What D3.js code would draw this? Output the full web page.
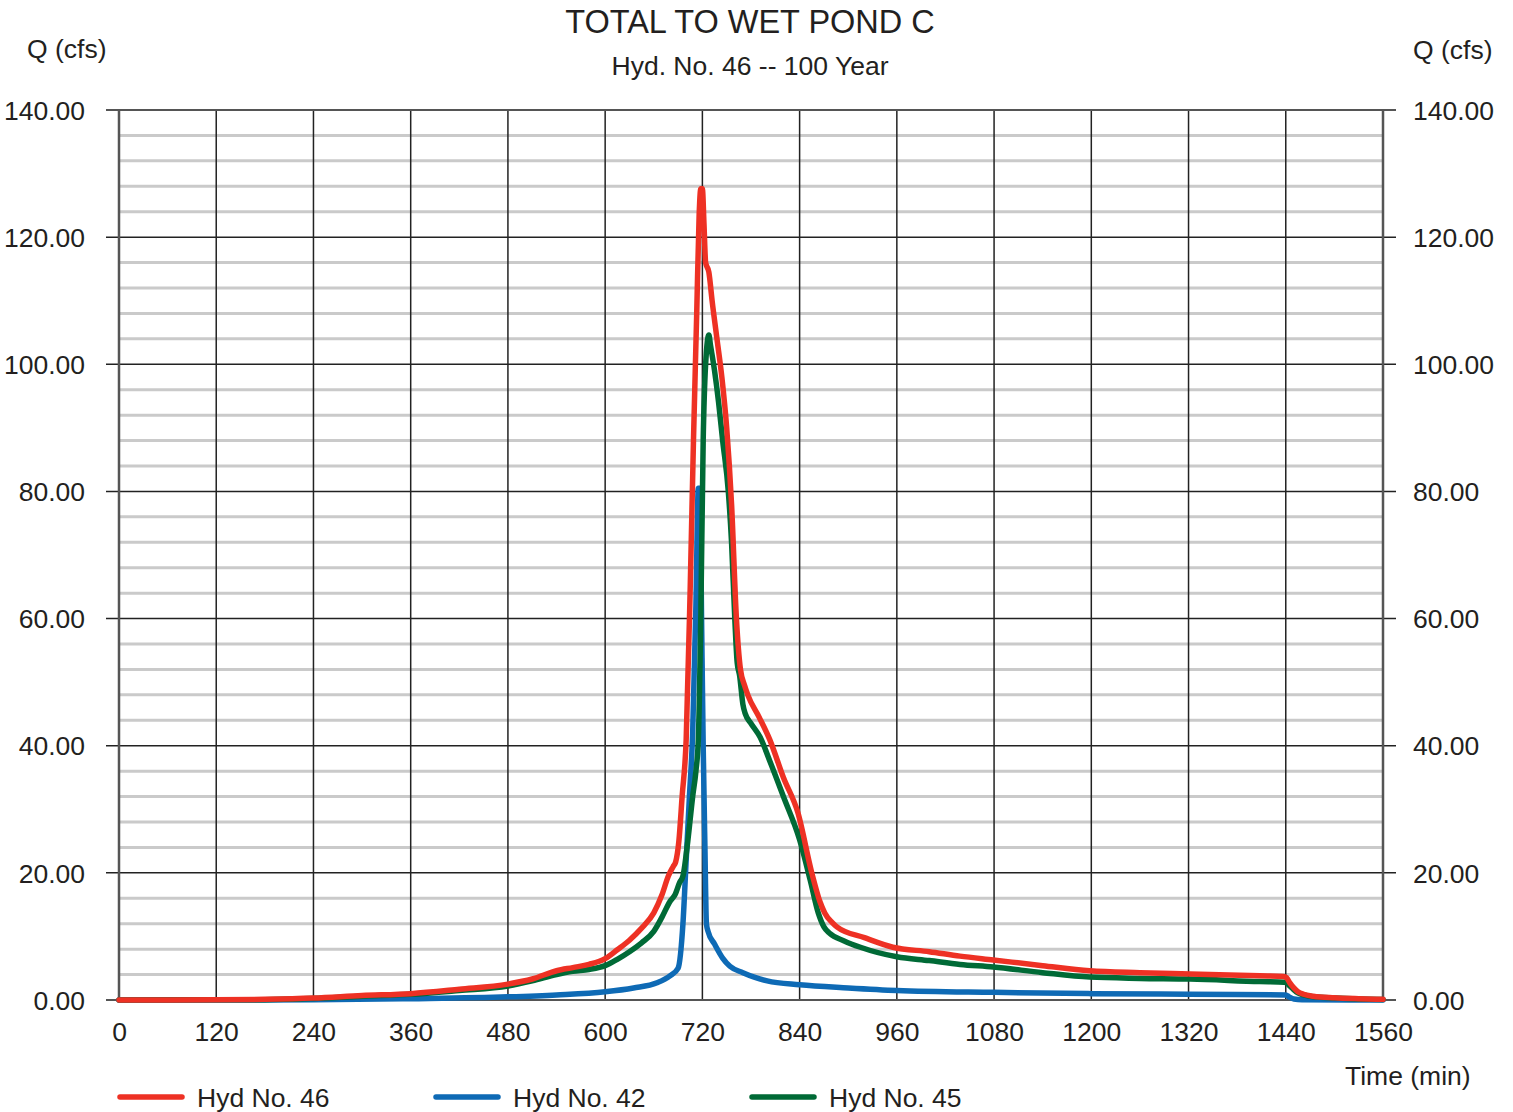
<!DOCTYPE html>
<html><head><meta charset="utf-8">
<script src="https://cdn.jsdelivr.net/npm/d3@7"></script>
<style>
html,body{margin:0;padding:0;background:#fff;}
svg{display:block;}
text{font-family:"Liberation Sans",Arial,sans-serif;fill:#231f20;}
</style></head>
<body>
<svg id="chart" width="1513" height="1112"></svg>
<script>
const titleText = "TOTAL TO WET POND C";
const subtitleText = "Hyd. No. 46 -- 100 Year";
const xTicks = [0,120,240,360,480,600,720,840,960,1080,1200,1320,1440,1560];
const yTicks = [0,20,40,60,80,100,120,140];
const yMinor = d3.range(0,141,4).filter(v => v % 20 !== 0);
const seriesNames = ["Hyd No. 46","Hyd No. 42","Hyd No. 45"];
const seriesColors = ["#ee3124","#0e6ab5","#006a36"];

// Hyd No. 46
const t46 = [0,120,180,240,300,360,420,480,510,540,560,580,600,615,630,645,660,670,678,684,687,691,695,700,705,709,713,716,718,720,722,724,728,732,738,744,750,756,762,767,772,776,790,803,820,838,855,865,871,880,886,920,955,1000,1038,1079,1140,1198,1260,1322,1408,1437,1441,1445,1450,1455,1462,1474,1500,1530,1560];
const q46 = [0,0.02,0.1,0.3,0.7,1.0,1.7,2.5,3.3,4.6,5.1,5.6,6.5,7.9,9.4,11.3,13.7,16.5,19.5,21.0,21.7,25,32,41,65,88,108,123.5,127.6,127.6,122,116,114.5,110,104,98,90,78,60,52,49.5,48,44.5,41,35,29.4,20,15.5,13.7,12.2,11.5,9.8,8.3,7.6,6.9,6.3,5.4,4.6,4.3,4.1,3.8,3.7,3.5,2.7,1.9,1.3,0.9,0.6,0.35,0.2,0.1];

// Hyd No. 42
const t42 = [0,120,240,360,480,540,600,635,664,680,690,696,700,704,708,712,715,717,719,721,723,725,727,735,745,754,770,784,800,840,900,960,1080,1200,1320,1440,1444,1450,1460,1560];
const q42 = [0,0,0.02,0.2,0.5,0.8,1.3,1.9,2.7,3.8,5.0,12,22,32,42,62,80.5,80.5,60,40,25,12,10.8,8.8,6.6,5.3,4.3,3.6,3.0,2.4,1.9,1.5,1.2,1.0,0.9,0.8,0.5,0.15,0.05,0];

// Hyd No. 45
const t45 = [0,180,240,300,360,420,480,510,540,560,580,600,615,630,645,660,670,680,686,692,696,702,708,712,715,718,721,724,728,730,735,740,745,752,756,760,763,766,770,773,780,791,805,820,840,853,863,870,877,895,915,960,1000,1038,1079,1140,1198,1260,1322,1408,1438,1441,1445,1450,1455,1462,1474,1500,1530,1560];
const q45 = [0,0.05,0.25,0.6,0.9,1.5,2.2,3.0,4.0,4.5,4.8,5.4,6.4,7.6,9.0,10.8,13,15.5,16.5,18.5,19.5,25,32,36,41,60,88,100,104.6,103,99,94,88,80,72,60,53,51,46.5,45,43.5,41.4,37,32,25.2,18.9,13.7,11.5,10.5,9.3,8.3,6.8,6.2,5.6,5.2,4.3,3.6,3.4,3.3,2.9,2.8,2.7,2.2,1.6,1.1,0.8,0.5,0.3,0.15,0.08];

const svg = d3.select("#chart");
const L = 119, R = 1383, T = 110, B = 1000;
const x = d3.scaleLinear().domain([0,1560]).range([L,R]);
const y = d3.scaleLinear().domain([0,140]).range([B,T]);

// minor gridlines
svg.append("g").selectAll("line").data(yMinor).join("line")
  .attr("x1",L).attr("x2",R).attr("y1",d=>y(d)).attr("y2",d=>y(d))
  .attr("stroke","#cacaca").attr("stroke-width",3);

// vertical gridlines
svg.append("g").selectAll("line").data(xTicks.filter(d=>d>0 && d<1560)).join("line")
  .attr("x1",d=>x(d)).attr("x2",d=>x(d)).attr("y1",T).attr("y2",B)
  .attr("stroke","#222").attr("stroke-width",1.5);

// major horizontal gridlines (extend as ticks)
svg.append("g").selectAll("line").data(yTicks).join("line")
  .attr("x1",L-13).attr("x2",R+13).attr("y1",d=>y(d)).attr("y2",d=>y(d))
  .attr("stroke",d=> (d===0||d===140) ? "#555" : "#222")
  .attr("stroke-width",d=> (d===0||d===140) ? 2 : 1.5);

// frame sides
svg.append("line").attr("x1",L).attr("x2",L).attr("y1",T).attr("y2",B).attr("stroke","#555").attr("stroke-width",2.5);
svg.append("line").attr("x1",R).attr("x2",R).attr("y1",T).attr("y2",B).attr("stroke","#555").attr("stroke-width",2.5);

// axes (labels)
const fmt = d3.format(".2f");
const gl = svg.append("g").attr("transform",`translate(${L},0)`)
  .call(d3.axisLeft(y).tickValues(yTicks).tickFormat(fmt).tickSize(0).tickPadding(34));
const gr = svg.append("g").attr("transform",`translate(${R},0)`)
  .call(d3.axisRight(y).tickValues(yTicks).tickFormat(fmt).tickSize(0).tickPadding(30));
const gb = svg.append("g").attr("transform",`translate(0,${B})`)
  .call(d3.axisBottom(x).tickValues(xTicks).tickFormat(d3.format("d")).tickSize(0).tickPadding(22));
[gl,gr,gb].forEach(g=>{
  g.select(".domain").remove();
  g.selectAll("text").attr("font-size",26.5).attr("fill","#231f20")
   .style("font-family","'Liberation Sans',Arial,sans-serif");
});
gl.selectAll("text").attr("dy","0.35em");
gr.selectAll("text").attr("dy","0.35em");

// series lines
const line = d3.line().x(d=>x(d[0])).y(d=>y(d[1])).curve(d3.curveMonotoneX);
const series = [
  {name:seriesNames[1], color:seriesColors[1], pts:d3.zip(t42,q42)},
  {name:seriesNames[2], color:seriesColors[2], pts:d3.zip(t45,q45)},
  {name:seriesNames[0], color:seriesColors[0], pts:d3.zip(t46,q46)}
];
svg.append("g").selectAll("path").data(series).join("path")
  .attr("d",d=>line(d.pts)).attr("fill","none")
  .attr("stroke",d=>d.color).attr("stroke-width",5.5)
  .attr("stroke-linejoin","round").attr("stroke-linecap","round");

// titles
svg.append("text").attr("x",750).attr("y",33).attr("text-anchor","middle").attr("font-size",32.5).text(titleText);
svg.append("text").attr("x",750).attr("y",75).attr("text-anchor","middle").attr("font-size",26.5).text(subtitleText);
svg.append("text").attr("x",27).attr("y",58).attr("font-size",26.5).text("Q (cfs)");
svg.append("text").attr("x",1413).attr("y",59).attr("font-size",26.5).text("Q (cfs)");
svg.append("text").attr("x",1345).attr("y",1085).attr("font-size",26.5).text("Time (min)");

// legend
const legX = [118,434,750];
const lg = svg.append("g").selectAll("g").data(seriesNames).join("g")
  .attr("transform",(d,i)=>`translate(${legX[i]},1097)`);
lg.append("line").attr("x1",2).attr("x2",64).attr("y1",0).attr("y2",0)
  .attr("stroke",(d,i)=>seriesColors[i]).attr("stroke-width",5.5).attr("stroke-linecap","round");
lg.append("text").attr("x",79).attr("y",10).attr("font-size",26.5).text(d=>d);
</script>
</body></html>
